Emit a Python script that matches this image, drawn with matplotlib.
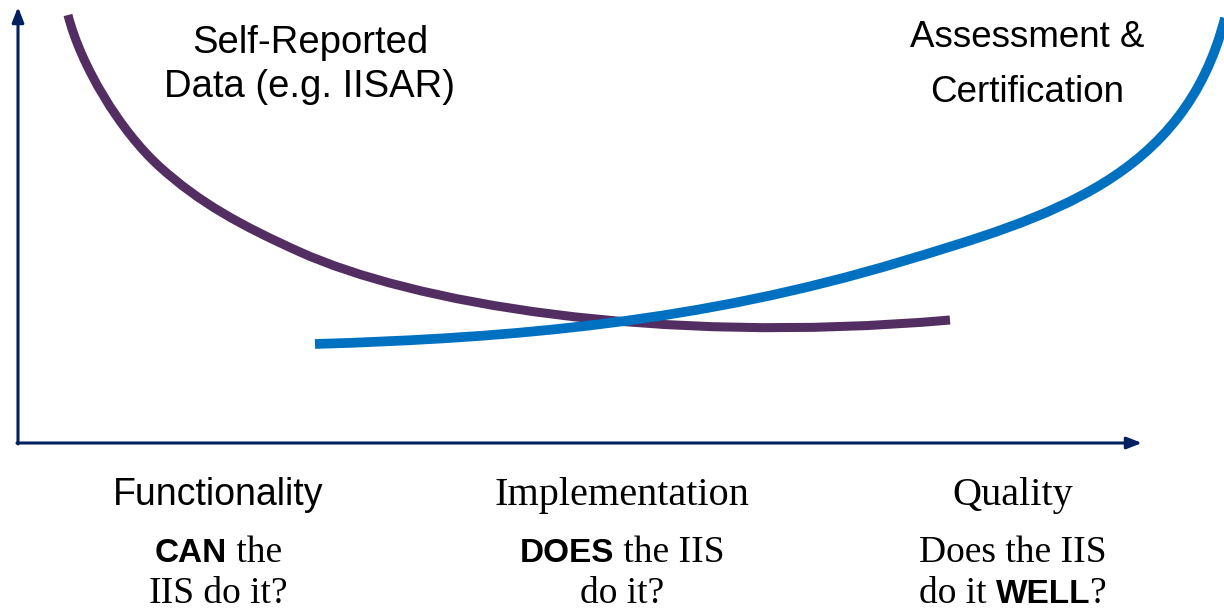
import matplotlib
matplotlib.use("Agg")
import matplotlib.pyplot as plt
from matplotlib.path import Path
from matplotlib.patches import PathPatch

# curve anchor and bezier control points
# (x, y in pixel units of the original, y grows downward)
purple_pts = [(68, 15), (80.5, 65), (120, 131), (160, 167),
              (200, 203), (240, 225), (300, 252),
              (410, 301.5), (650, 346), (950, 320)]
blue_pts = [(315, 344), (515, 338), (700, 322), (900, 262),
            (1050, 217), (1184, 178), (1225, 18)]

top_labels = [["Self-Reported", "Data (e.g. IISAR)"], ["Assessment &", "Certification"]]
top_x = [310, 1027]
top_baselines = [[53, 97], [47, 102]]
top_sizes = [27.5, 26.5]

column_x = [218, 622, 1013]
column_titles = ["Functionality", "Implementation", "Quality"]
title_sans = [True, False, False]
# each line is a list of (text, bold sans?) pieces
column_lines = [
    [[("CAN", True), (" the", False)], [("IIS", False), (" do it?", False)]],
    [[("DOES", True), (" the IIS", False)], [("do it?", False)]],
    [[("Does the IIS", False)], [("do it ", False), ("WELL", True), ("?", False)]],
]
line_baselines = [562, 603]

PURPLE = "#532E63"
BLUE = "#0070C0"
NAVY = "#002060"

fig = plt.figure(figsize=(12.24, 6.11), dpi=100)
ax = fig.add_axes([0, 0, 1, 1])
ax.set_xlim(0, 1224)
ax.set_ylim(611, 0)
ax.axis("off")

# axes arrows
arrow = dict(arrowstyle="-|>,head_length=0.9,head_width=0.35", color=NAVY, lw=2.2,
             shrinkA=0, shrinkB=0)
ax.annotate("", xy=(18, 7), xytext=(18, 444), arrowprops=arrow)
ax.annotate("", xy=(1142, 443), xytext=(17, 443), arrowprops=arrow)


def bezier_patch(pts, color, lw, z):
    codes = [Path.MOVETO] + [Path.CURVE4] * (len(pts) - 1)
    p = PathPatch(Path(pts, codes), fill=False, edgecolor=color, lw=lw,
                  capstyle="butt", zorder=z)
    ax.add_patch(p)


bezier_patch(purple_pts, PURPLE, 6.5, 2)
bezier_patch(blue_pts, BLUE, 7.0, 3)

for lines, x, ys, fs in zip(top_labels, top_x, top_baselines, top_sizes):
    for s, y in zip(lines, ys):
        ax.text(x, y, s, ha="center", va="baseline", fontsize=fs,
                family="Liberation Sans")

renderer = fig.canvas.get_renderer()

SANS_BOLD = dict(family="Liberation Sans", fontsize=24, fontweight="bold")
SERIF = dict(family="Liberation Serif", fontsize=27)


def centered_line(cx, y, pieces):
    # draw pieces one after the other, then shift so the whole line is centered
    items = []
    x = 0
    for s, bold in pieces:
        props = SANS_BOLD if bold else SERIF
        t = ax.text(0, y, s, ha="left", va="baseline", **props)
        bb = t.get_window_extent(renderer=renderer)
        items.append((t, x))
        x += bb.width
    start = cx - x / 2
    for t, off in items:
        t.set_x(start + off)


for cx, title, sans in zip(column_x, column_titles, title_sans):
    if sans:
        ax.text(cx, 505, title, ha="center", va="baseline",
                family="Liberation Sans", fontsize=27)
    else:
        ax.text(cx, 505, title, ha="center", va="baseline",
                family="Liberation Serif", fontsize=29)

for cx, lines in zip(column_x, column_lines):
    for pieces, y in zip(lines, line_baselines):
        centered_line(cx, y, pieces)

fig.savefig("out.png", dpi=100)
